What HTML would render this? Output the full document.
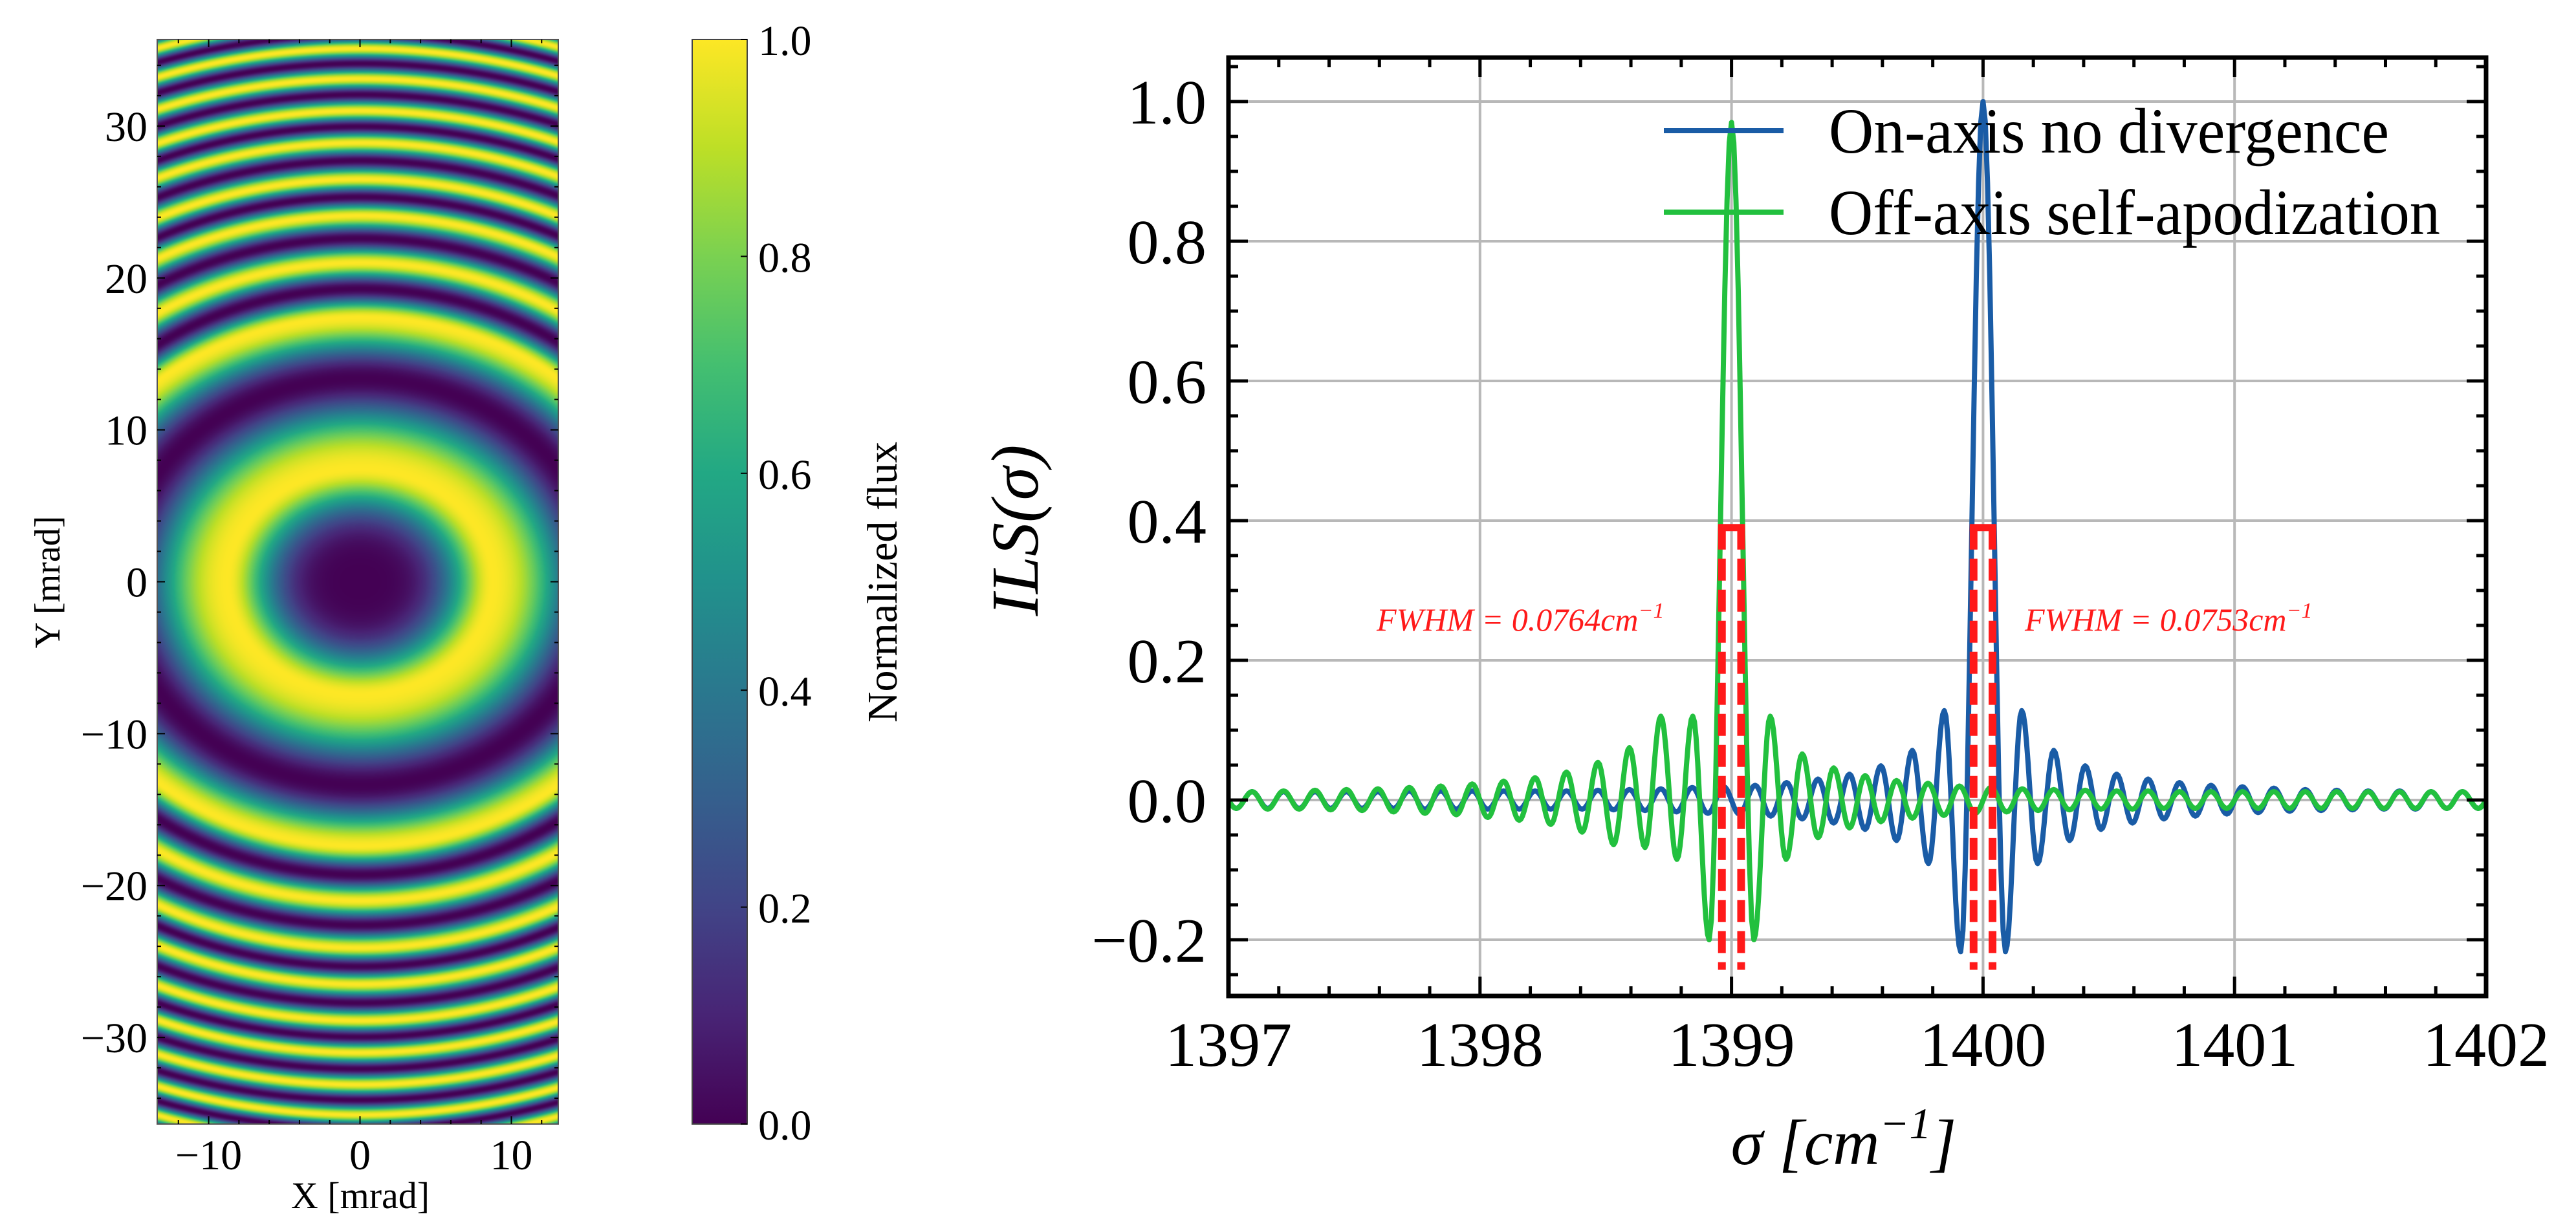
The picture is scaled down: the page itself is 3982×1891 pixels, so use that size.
<!DOCTYPE html>
<html><head><meta charset="utf-8"><style>
html,body{margin:0;padding:0;background:#fff;}
#root{position:relative;width:3982px;height:1891px;overflow:hidden;background:#fff;}
canvas{position:absolute;}
svg{position:absolute;left:0;top:0;}
text{font-family:"Liberation Serif",serif;fill:#000;}
</style></head><body>
<div id="root">
<canvas id="heat" width="620" height="1677" style="left:243px;top:61px"></canvas>
<svg id="svg" width="3982" height="1891" viewBox="0 0 3982 1891">
<defs>
<linearGradient id="viridis" x1="0" y1="1" x2="0" y2="0">
<stop offset="0" stop-color="#440154"/><stop offset="0.1" stop-color="#482475"/><stop offset="0.2" stop-color="#414487"/><stop offset="0.3" stop-color="#355f8d"/><stop offset="0.4" stop-color="#2a788e"/><stop offset="0.5" stop-color="#21918c"/><stop offset="0.6" stop-color="#22a884"/><stop offset="0.7" stop-color="#44bf70"/><stop offset="0.8" stop-color="#7ad151"/><stop offset="0.9" stop-color="#bddf26"/><stop offset="1" stop-color="#fde725"/>
</linearGradient>
<clipPath id="plotclip"><rect x="1899" y="89" width="1944" height="1451"/></clipPath>
</defs>
<g id="left"></g>
<g id="right"></g>
</svg>
</div>
<script>
// ---- Left panel data ----
const ringRho2 = [0, 54.8, 303, 441, 581, 702, 835, 961, 1096, 1232, 1362, 1492, 1622];
const ringPhase = [-0.5, 0, 1, 2, 3, 4, 5, 6, 7, 8, 9, 10, 11];
const heatXTicks = [-10, 0, 10];
const heatYTicks = [-30, -20, -10, 0, 10, 20, 30];
const cbarTicks = [0.0, 0.2, 0.4, 0.6, 0.8, 1.0];
const ellipseRatio = 1.18;

// ---- Right panel data ----
const xTicks = [1397, 1398, 1399, 1400, 1401, 1402];
const yTicks = [-0.2, 0.0, 0.2, 0.4, 0.6, 0.8, 1.0];
const blueSigma = [1396.969,1397.031,1397.094,1397.156,1397.219,1397.281,1397.344,1397.406,1397.469,1397.531,1397.594,1397.656,1397.719,1397.781,1397.844,1397.906,1397.969,1398.031,1398.094,1398.156,1398.219,1398.281,1398.344,1398.406,1398.469,1398.531,1398.594,1398.656,1398.719,1398.781,1398.844,1398.906,1398.969,1399.031,1399.094,1399.156,1399.219,1399.281,1399.344,1399.406,1399.469,1399.531,1399.594,1399.656,1399.719,1399.783,1399.846,1399.911,1400,1400.089,1400.154,1400.217,1400.281,1400.344,1400.406,1400.469,1400.531,1400.594,1400.656,1400.719,1400.781,1400.844,1400.906,1400.969,1401.031,1401.094,1401.156,1401.219,1401.281,1401.344,1401.406,1401.469,1401.531,1401.594,1401.656,1401.719,1401.781,1401.844,1401.906,1401.969,1402.031];
const blueILS = [0.012,-0.012,0.012,-0.012,0.012,-0.012,0.012,-0.012,0.012,-0.012,0.012,-0.012,0.013,-0.013,0.013,-0.013,0.013,-0.013,0.013,-0.013,0.013,-0.013,0.013,-0.013,0.014,-0.014,0.015,-0.015,0.016,-0.017,0.018,-0.019,0.019,-0.020,0.021,-0.023,0.025,-0.027,0.030,-0.033,0.037,-0.042,0.049,-0.058,0.071,-0.091,0.128,-0.217,1.0,-0.217,0.128,-0.091,0.071,-0.058,0.049,-0.042,0.037,-0.033,0.030,-0.027,0.025,-0.023,0.021,-0.020,0.019,-0.018,0.017,-0.016,0.015,-0.015,0.014,-0.014,0.013,-0.013,0.013,-0.013,0.012,-0.012,0.012,-0.012,0.012];
const greenSigma = [1396.969,1397.031,1397.094,1397.156,1397.219,1397.281,1397.344,1397.406,1397.469,1397.531,1397.594,1397.656,1397.719,1397.781,1397.844,1397.906,1397.969,1398.031,1398.094,1398.156,1398.219,1398.281,1398.344,1398.406,1398.469,1398.531,1398.594,1398.656,1398.719,1398.783,1398.846,1398.911,1399,1399.089,1399.154,1399.217,1399.281,1399.344,1399.406,1399.469,1399.531,1399.594,1399.656,1399.719,1399.781,1399.844,1399.906,1399.969,1400.031,1400.094,1400.156,1400.219,1400.281,1400.344,1400.406,1400.469,1400.531,1400.594,1400.656,1400.719,1400.781,1400.844,1400.906,1400.969,1401.031,1401.094,1401.156,1401.219,1401.281,1401.344,1401.406,1401.469,1401.531,1401.594,1401.656,1401.719,1401.781,1401.844,1401.906,1401.969,1402.031];
const greenILS = [0.012,-0.012,0.012,-0.013,0.013,-0.013,0.014,-0.014,0.015,-0.015,0.016,-0.017,0.018,-0.019,0.020,-0.021,0.023,-0.025,0.027,-0.029,0.032,-0.035,0.040,-0.046,0.054,-0.064,0.075,-0.068,0.12,-0.085,0.12,-0.20,0.97,-0.20,0.12,-0.085,0.066,-0.054,0.046,-0.040,0.035,-0.031,0.028,-0.026,0.024,-0.022,0.020,-0.019,0.018,-0.017,0.016,-0.015,0.015,-0.014,0.014,-0.013,0.013,-0.013,0.013,-0.012,0.012,-0.012,0.012,-0.012,0.012,-0.012,0.012,-0.012,0.012,-0.012,0.012,-0.012,0.012,-0.012,0.012,-0.012,0.012,-0.012,0.012,-0.012,0.012];
const fwhmCenters = [1399.0, 1400.0];
const fwhmWidths = [0.0764, 0.0753];
const fwhmTop = 0.39;
const fwhmBottom = -0.243;

const NS = "http://www.w3.org/2000/svg";
function mk(tag, attrs, parent, txt) {
  const e = document.createElementNS(NS, tag);
  for (const k in attrs) e.setAttribute(k, attrs[k]);
  if (txt !== undefined) e.textContent = txt;
  parent.appendChild(e);
  return e;
}
const L = document.getElementById('left');
const R = document.getElementById('right');

// ---------- Heatmap ----------
const hx0 = 243, hx1 = 863, hy0 = 61, hy1 = 1738;
const xMin = -13.4, xMax = 13.1, yMin = -35.7, yMax = 35.7;
const hX = v => hx0 + (v - xMin) / (xMax - xMin) * (hx1 - hx0);
const hY = v => hy1 - (v - yMin) / (yMax - yMin) * (hy1 - hy0);
const vir = [[68,1,84],[72,36,117],[65,68,135],[53,95,141],[42,120,142],[33,145,140],[34,168,132],[68,191,112],[122,209,81],[189,223,38],[253,231,37]];
function cmap(t){ t=Math.max(0,Math.min(1,t))*10; const i=Math.min(9,Math.floor(t)), f=t-i;
  return [0,1,2].map(c=>vir[i][c]+(vir[i+1][c]-vir[i][c])*f); }
function phaseOf(r2){
  const n=ringRho2.length;
  if (r2>=ringRho2[n-1]) return ringPhase[n-1]+(r2-ringRho2[n-1])/(ringRho2[n-1]-ringRho2[n-2])*(ringPhase[n-1]-ringPhase[n-2]);
  for (let i=0;i<n-1;i++) if (r2<ringRho2[i+1]) return ringPhase[i]+(r2-ringRho2[i])/(ringRho2[i+1]-ringRho2[i])*(ringPhase[i+1]-ringPhase[i]);
}
(function(){
  const c=document.getElementById('heat'), ctx=c.getContext('2d');
  const W=c.width,H=c.height, img=ctx.createImageData(W,H);
  for (let j=0;j<H;j++){ const y=yMax-(j+0.5)/H*(yMax-yMin);
    for (let i=0;i<W;i++){ const x=xMin+(i+0.5)/W*(xMax-xMin);
      const r2=(x/ellipseRatio)*(x/ellipseRatio)+y*y;
      const v=(1+Math.cos(2*Math.PI*phaseOf(r2)))/2;
      const col=cmap(v), k=(j*W+i)*4;
      img.data[k]=col[0];img.data[k+1]=col[1];img.data[k+2]=col[2];img.data[k+3]=255; } }
  ctx.putImageData(img,0,0);
})();
mk('rect',{x:hx0,y:hy0,width:hx1-hx0,height:hy1-hy0,fill:'none',stroke:'#555','stroke-width':2,},L);
for (let v=-12; v<=12; v+=2){ const x=hX(v), len=(v%10===0)?12:6;
  mk('line',{x1:x,y1:hy1,x2:x,y2:hy1-len,stroke:'#000','stroke-width':2},L);
  mk('line',{x1:x,y1:hy0,x2:x,y2:hy0+len,stroke:'#000','stroke-width':2},L); }
for (let v=-34; v<=34; v+=2){ const y=hY(v), len=(v%10===0)?12:6;
  mk('line',{x1:hx0,y1:y,x2:hx0+len,y2:y,stroke:'#000','stroke-width':2},L);
  mk('line',{x1:hx1,y1:y,x2:hx1-len,y2:y,stroke:'#000','stroke-width':2},L); }
heatXTicks.forEach(v=>{ const t=mk('text',{x:hX(v),y:1808,'text-anchor':'middle','font-size':66},L,v<0?'\u2212'+(-v):String(v));
    });
heatYTicks.forEach(v=>{ const t=mk('text',{x:228,y:hY(v)+23,'text-anchor':'end','font-size':66},L,v<0?'\u2212'+(-v):String(v));
    });
mk('text',{x:557,y:1868,'text-anchor':'middle','font-size':58,},L,'X [mrad]');
mk('text',{x:0,y:0,'text-anchor':'middle','font-size':56,transform:'translate(92,900) rotate(-90)',},L,'Y [mrad]');
// colorbar
const cb0=1070, cb1=1155;
mk('rect',{x:cb0,y:hy0,width:cb1-cb0,height:hy1-hy0,fill:'url(#viridis)',stroke:'#444','stroke-width':2,},L);
cbarTicks.forEach(v=>{ const y=hy1-v*(hy1-hy0);
  mk('line',{x1:cb1,y1:y,x2:cb1-10,y2:y,stroke:'#000','stroke-width':2},L);
  const t=mk('text',{x:1172,y:y+24,'font-size':66},L,v.toFixed(1));
    });
mk('text',{x:0,y:0,'text-anchor':'middle','font-size':66,transform:'translate(1386,900) rotate(-90)',},L,'Normalized flux');

// ---------- Right chart ----------
const px0=1899, px1=3843, py0=89, py1=1540;
const sx = s => px0 + (s-1397)/(1402-1397)*(px1-px0);
const sy = v => 157 + (1-v)*1080;
// grid
xTicks.forEach(s=>{ const g=mk('line',{x1:sx(s),y1:py0,x2:sx(s),y2:py1,stroke:'#b8b8b8','stroke-width':4},R);
    });
yTicks.forEach(v=>{ const g=mk('line',{x1:px0,y1:sy(v),x2:px1,y2:sy(v),stroke:'#b8b8b8','stroke-width':4},R);
    });
// curves
function curvePath(xs, ys){
  let d='M'+sx(xs[0]).toFixed(1)+','+sy(ys[0]).toFixed(1);
  for (let i=0;i<xs.length-1;i++){
    for (let k=1;k<=10;k++){ const t=k/10, e=(1-Math.cos(Math.PI*t))/2;
      const x=xs[i]+(xs[i+1]-xs[i])*t, y=ys[i]+(ys[i+1]-ys[i])*e;
      d+='L'+sx(x).toFixed(1)+','+sy(y).toFixed(1); } }
  return d;
}
const gc=mk('g',{'clip-path':'url(#plotclip)'},R);
const bl=mk('path',{d:curvePath(blueSigma,blueILS),fill:'none',stroke:'#1a5ca6','stroke-width':8,'stroke-linejoin':'round'},gc);
 
const gl=mk('path',{d:curvePath(greenSigma,greenILS),fill:'none',stroke:'#22c03e','stroke-width':8,'stroke-linejoin':'round'},gc);
 
// FWHM boxes
fwhmCenters.forEach((c,i)=>{ const a=sx(c-fwhmWidths[i]/2), b=sx(c+fwhmWidths[i]/2);
  const h=mk('line',{x1:a-6,y1:sy(fwhmTop),x2:b+6,y2:sy(fwhmTop),stroke:'#ff1a1a','stroke-width':11},R);
   
  [a,b].forEach(x=>{ const v=mk('line',{x1:x,y1:sy(fwhmTop),x2:x,y2:sy(fwhmBottom),stroke:'#ff1a1a','stroke-width':12,'stroke-dasharray':'34 14'},R);
      });
});
function fwhmLabel(x,val){
  const t=mk('text',{x:x,y:975,'font-size':50,'font-style':'italic',fill:'#ff1a1a',style:'fill:#ff1a1a'},R);
   
  const a=document.createElementNS(NS,'tspan'); a.textContent='FWHM = '+val+'cm'; t.appendChild(a);
  const b=document.createElementNS(NS,'tspan'); b.setAttribute('dy','-20'); b.setAttribute('font-size','34'); b.textContent='\u22121'; t.appendChild(b);
}
fwhmLabel(2128,'0.0764'); fwhmLabel(3130,'0.0753');
// frame & ticks
mk('rect',{x:px0,y:py0,width:px1-px0,height:py1-py0,fill:'none',stroke:'#000','stroke-width':7,},R);
for (let s=1397; s<=1402.001; s+=0.2){ const x=sx(s), maj=Math.abs(s-Math.round(s))<0.01, len=maj?30:15;
  mk('line',{x1:x,y1:py1,x2:x,y2:py1-len,stroke:'#000','stroke-width':5},R);
  mk('line',{x1:x,y1:py0,x2:x,y2:py0+len,stroke:'#000','stroke-width':5},R); }
for (let v=-0.25; v<=1.051; v+=0.05){ const y=sy(v), maj=Math.abs(v*5-Math.round(v*5))<0.01, len=maj?30:15;
  mk('line',{x1:px0,y1:y,x2:px0+len,y2:y,stroke:'#000','stroke-width':5},R);
  mk('line',{x1:px1,y1:y,x2:px1-len,y2:y,stroke:'#000','stroke-width':5},R); }
xTicks.forEach(s=>{ const t=mk('text',{x:sx(s),y:1648,'text-anchor':'middle','font-size':98},R,String(s));
    });
yTicks.forEach(v=>{ const t=mk('text',{x:1865,y:sy(v)+34,'text-anchor':'end','font-size':98},R,(v<0?'\u2212':'')+Math.abs(v).toFixed(1));
    });
// axis titles
const xt=mk('text',{x:2850,y:1800,'text-anchor':'middle','font-size':100,'font-style':'italic',},R);
xt.appendChild(document.createTextNode('\u03c3 [cm'));
const sup=document.createElementNS(NS,'tspan'); sup.setAttribute('dy','-40'); sup.setAttribute('font-size','68'); sup.textContent='\u22121'; xt.appendChild(sup);
const cl=document.createElementNS(NS,'tspan'); cl.setAttribute('dy','40'); cl.textContent=']'; xt.appendChild(cl);
mk('text',{x:0,y:0,'text-anchor':'middle','font-size':104,'font-style':'italic',transform:'translate(1604,820) rotate(-90)',},R,'ILS(\u03c3)');
// legend
const lg=mk('g',{},R);
const l1=mk('line',{x1:2572,y1:202,x2:2757,y2:202,stroke:'#1a5ca6','stroke-width':8},lg);
 
mk('text',{x:2827,y:236,'font-size':100,textLength:866,lengthAdjust:'spacingAndGlyphs',},lg,'On-axis no divergence');
const l2=mk('line',{x1:2572,y1:328,x2:2757,y2:328,stroke:'#22c03e','stroke-width':8},lg);
 
mk('text',{x:2827,y:362,'font-size':100,textLength:945,lengthAdjust:'spacingAndGlyphs',},lg,'Off-axis self-apodization');
</script>
</body></html>
